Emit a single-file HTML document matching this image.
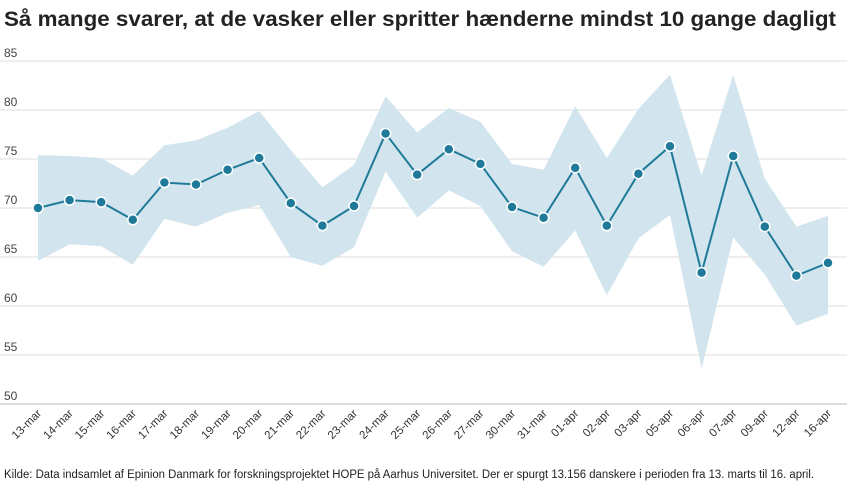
<!DOCTYPE html>
<html><head><meta charset="utf-8"><style>
body{margin:0;background:#fff;font-family:"Liberation Sans",sans-serif;}
svg{display:block}
</style></head><body>
<svg width="847" height="495" id="c">
<text x="4" y="26" font-size="21" font-weight="bold" fill="#222" textLength="832" lengthAdjust="spacingAndGlyphs">Så mange svarer, at de vasker eller spritter hænderne mindst 10 gange dagligt</text>
<g id="grid"></g><g id="band"></g><g id="line"></g><g id="pts"></g><g id="xl"></g>
<text x="4" y="478" font-size="11.5" fill="#222" textLength="810" lengthAdjust="spacingAndGlyphs">Kilde: Data indsamlet af Epinion Danmark for forskningsprojektet HOPE på Aarhus Universitet. Der er spurgt 13.156 danskere i perioden fra 13. marts til 16. april.</text>
</svg>
<script>
const categories=["13-mar","14-mar","15-mar","16-mar","17-mar","18-mar","19-mar","20-mar","21-mar","22-mar","23-mar","24-mar","25-mar","26-mar","27-mar","30-mar","31-mar","01-apr","02-apr","03-apr","05-apr","06-apr","07-apr","09-apr","12-apr","16-apr"];
const values=[70.0,70.8,70.6,68.8,72.6,72.4,73.9,75.1,70.5,68.2,70.2,77.6,73.4,76.0,74.5,70.1,69.0,74.1,68.2,73.5,76.3,63.4,75.3,68.1,63.1,64.4];
const upper=[75.4,75.3,75.1,73.3,76.4,76.9,78.2,79.9,75.9,72.1,74.4,81.4,77.7,80.2,78.8,74.5,73.9,80.4,75.1,80.1,83.6,73.3,83.6,73.0,68.1,69.2];
const lower=[64.6,66.3,66.1,64.2,68.9,68.1,69.5,70.3,65.0,64.1,66.0,73.7,69.0,71.8,70.2,65.6,64.0,67.7,61.1,66.9,69.3,53.6,67.0,63.2,58.0,59.2];
const yTicks=[50,55,60,65,70,75,80,85];
const NS="http://www.w3.org/2000/svg";
const n=categories.length;
const x=i=>38+i*(790/(n-1));
const y=v=>404-(v-50)*(343/35);
function mk(t,a,p){const e=document.createElementNS(NS,t);for(const k in a)e.setAttribute(k,a[k]);document.getElementById(p).appendChild(e);return e;}
yTicks.forEach(t=>{
 const l=mk('line',{x1:0,x2:847,y1:y(t),y2:y(t),stroke:t==50?'#bbb':'#ddd','stroke-width':1},'grid');
 
 
 const tx=mk('text',{x:4,y:y(t)-4,'font-size':12,fill:'#444'},'grid');tx.textContent=t;
 
 
});
let d=upper.map((v,i)=>(i?'L':'M')+x(i)+','+y(v)).join('');
for(let i=n-1;i>=0;i--)d+='L'+x(i)+','+y(lower[i]);
const b=mk('path',{d:d+'Z',fill:'#d2e5ee'},'band');


const ln=mk('path',{d:values.map((v,i)=>(i?'L':'M')+x(i)+','+y(v)).join(''),fill:'none',stroke:'#1f7a99','stroke-width':2},'line');


values.forEach((v,i)=>{
 const c=mk('circle',{cx:x(i),cy:y(v),r:5,fill:'#1f7a99',stroke:'#fff','stroke-width':1.5},'pts');
 
 
 const t=mk('text',{x:x(i)+4,y:414,'font-size':11.5,fill:'#333','text-anchor':'end',transform:`rotate(-45 ${x(i)+4} 414)`},'xl');
 t.textContent=categories[i];
 
 
});
</script>
</body></html>
